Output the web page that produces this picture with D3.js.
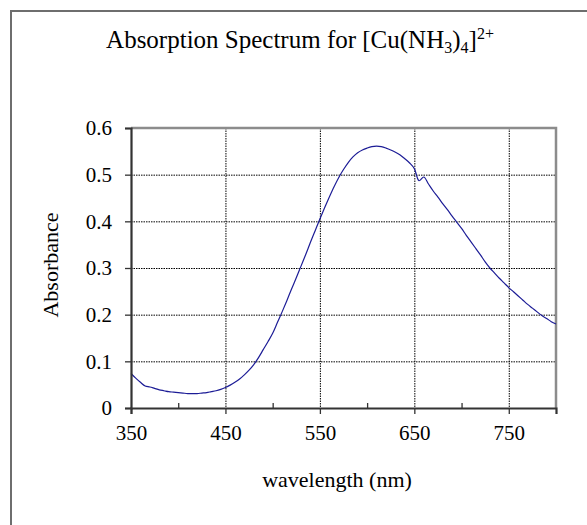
<!DOCTYPE html>
<html>
<head>
<meta charset="utf-8">
<script src="https://cdn.jsdelivr.net/npm/d3@7"></script>
<style>
  body { margin: 0; background: #fff; }
  svg text { font-family: "Liberation Serif", "Times New Roman", serif; fill: #000; }
</style>
</head>
<body>
<div id="chart"></div>
<script>
// wavelength (nm) and absorbance
const wavelength = [
  350, 355, 360, 365, 370, 375, 380, 385, 390, 395,
  400, 405, 410, 415, 420, 425, 430, 435, 440, 445,
  450, 455, 460, 465, 470, 475, 480, 485, 490, 495,
  500, 505, 510, 515, 520, 525, 530, 535, 540, 545,
  550, 555, 560, 565, 570, 575, 580, 585, 590, 595,
  600, 605, 610, 615, 620, 625, 630, 635, 640, 645,
  650, 655, 660, 665, 670, 675, 680, 685, 690, 695,
  700, 705, 710, 715, 720, 725, 730, 735, 740, 745,
  750, 755, 760, 765, 770, 775, 780, 785, 790, 795, 800
]
const absorbance = [
  0.074, 0.064, 0.055, 0.047, 0.045, 0.042, 0.039, 0.037, 0.035, 0.034,
  0.033, 0.032, 0.031, 0.031, 0.031, 0.032, 0.033, 0.035, 0.037, 0.040,
  0.044, 0.049, 0.055, 0.062, 0.071, 0.081, 0.093, 0.108, 0.125, 0.142,
  0.160, 0.183, 0.206, 0.230, 0.255, 0.279, 0.304, 0.329, 0.355, 0.380,
  0.405, 0.429, 0.452, 0.474, 0.494, 0.511, 0.526, 0.538, 0.547, 0.553,
  0.557, 0.560, 0.561, 0.560, 0.557, 0.553, 0.548, 0.542, 0.534, 0.525,
  0.513, 0.487, 0.495, 0.480, 0.465, 0.452, 0.438, 0.425, 0.411, 0.398,
  0.385, 0.370, 0.356, 0.342, 0.328, 0.313, 0.300, 0.289, 0.278, 0.268,
  0.258, 0.249, 0.240, 0.231, 0.222, 0.214, 0.206, 0.198, 0.192, 0.185, 0.180
]
const xTicks = [350, 450, 550, 650, 750]
const xMinorTicks = [400, 500, 600, 700]
const yTicks = [0, 0.1, 0.2, 0.3, 0.4, 0.5, 0.6]

const width = 587, height = 525
const plot = {left: 131, top: 128, right: 556, bottom: 408}

const svg = d3.select('#chart').append('svg')
  .attr('width', width)
  .attr('height', height)

// outer chart border (runs off the right and bottom edges)
svg.append('rect')
  .attr('x', 11).attr('y', 11)
  .attr('width', width + 20).attr('height', height + 20)
  .attr('fill', 'none')
  .attr('stroke', '#6e6e6e')
  .attr('stroke-width', 2)

const x = d3.scaleLinear().domain([350, 800]).range([plot.left, plot.right])
const y = d3.scaleLinear().domain([0, 0.6]).range([plot.bottom, plot.top])

// grid
svg.append('g').selectAll('line')
  .data(xTicks.slice(1))
  .join('line')
    .attr('x1', (d) => x(d) + 0.5).attr('x2', (d) => x(d) + 0.5)
    .attr('y1', plot.top).attr('y2', plot.bottom)
    .attr('stroke', '#000')
    .attr('stroke-dasharray', '1.5,1')
svg.append('g').selectAll('line')
  .data(yTicks.slice(1, -1))
  .join('line')
    .attr('x1', plot.left).attr('x2', plot.right)
    .attr('y1', (d) => y(d) + 0.5).attr('y2', (d) => y(d) + 0.5)
    .attr('stroke', '#000')
    .attr('stroke-dasharray', '1.5,1')

// top and right frame
svg.append('path')
  .attr('d', `M${plot.left},${plot.top}H${plot.right}V${plot.bottom}`)
  .attr('fill', 'none')
  .attr('stroke', '#8c8c8c')
  .attr('stroke-width', 2.5)

// spectrum
const points = wavelength.map((w, i) => [w, absorbance[i]])
svg.append('path')
  .datum(points)
  .attr('d', d3.line().x((d) => x(d[0])).y((d) => y(d[1])).curve(d3.curveCatmullRom))
  .attr('fill', 'none')
  .attr('stroke', '#1c1c96')
  .attr('stroke-width', 1.2)

// axes
const xAxis = svg.append('g')
  .attr('transform', `translate(0,${plot.bottom})`)
  .call(d3.axisBottom(x).tickValues(xTicks).tickSize(6).tickFormat(d3.format('d')))
xAxis.selectAll('text').attr('font-size', 21).attr('dy', '1.1em')
  .attr('font-family', '"Liberation Serif", serif')
svg.append('g')
  .attr('transform', `translate(0,${plot.bottom})`)
  .call(d3.axisBottom(x).tickValues(xMinorTicks).tickSize(-5).tickFormat(''))
  .call((g) => g.select('.domain').remove())

const yAxis = svg.append('g')
  .attr('transform', `translate(${plot.left},0)`)
  .call(d3.axisLeft(y).tickValues(yTicks).tickSize(6).tickPadding(13).tickFormat((d) => d === 0 ? '0' : d3.format('.1f')(d)))
yAxis.selectAll('text').attr('font-size', 21)
  .attr('font-family', '"Liberation Serif", serif')

svg.selectAll('.domain').attr('stroke', '#333').attr('stroke-width', 2.2)
svg.selectAll('.tick line').attr('stroke', '#333').attr('stroke-width', 1.3)

// title
const title = svg.append('text')
  .attr('x', 300).attr('y', 48)
  .attr('text-anchor', 'middle')
  .attr('font-size', 25)
title.append('tspan').text('Absorption Spectrum for [Cu(NH')
title.append('tspan').attr('font-size', 16).attr('dy', 5).text('3')
title.append('tspan').attr('dy', -5).text(')')
title.append('tspan').attr('font-size', 16).attr('dy', 5).text('4')
title.append('tspan').attr('dy', -5).text(']')
title.append('tspan').attr('font-size', 16).attr('dy', -9).text('2+')

svg.append('text')
  .attr('x', 337).attr('y', 487)
  .attr('text-anchor', 'middle')
  .attr('font-size', 22)
  .text('wavelength (nm)')

svg.append('text')
  .attr('transform', 'translate(58,265) rotate(-90)')
  .attr('text-anchor', 'middle')
  .attr('font-size', 22)
  .text('Absorbance')
</script>
</body>
</html>
